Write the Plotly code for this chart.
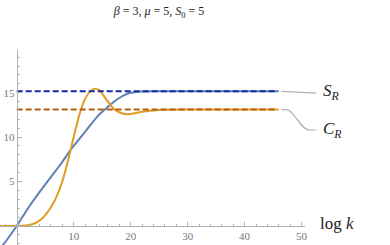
import plotly.graph_objects as go

# ---- data ----
k_blue = [-3, -2, 0, 2, 4, 6, 8, 9.4, 10, 11, 12, 13, 14, 15, 16, 17, 18, 19, 20, 21, 22, 24, 30, 46]
s_blue = [-2.6, -1.8, 0, 2.0, 3.8, 5.5, 7.2, 8.5, 9.0, 9.8, 10.6, 11.4, 12.2, 12.85, 13.4, 13.95, 14.4, 14.75, 14.98, 15.08, 15.12, 15.15, 15.15, 15.15]

k_orange = [-3, 0, 1, 2, 3, 4, 5, 6, 7, 8, 9, 10, 11, 12, 13, 13.7, 14.5, 15, 16, 17, 18, 19, 20, 21, 22, 24, 26, 30, 46]
c_orange = [0, 0, 0.02, 0.08, 0.25, 0.6, 1.2, 2.1, 3.3, 5.0, 7.3, 10.0, 12.5, 14.3, 15.2, 15.45, 15.3, 14.9, 14.0, 13.2, 12.8, 12.6, 12.6, 12.7, 12.85, 13.0, 13.08, 13.1, 13.1]

S_R = 15.15
C_R = 13.1
k_end = 45.8

x_ticks = [10, 20, 30, 40, 50]
y_ticks = [5, 10, 15]

X_RANGE = [-2.93, 50.6]
Y_RANGE = [-2.14, 19.8]

def yp(v):
    return (v - Y_RANGE[0]) / (Y_RANGE[1] - Y_RANGE[0])

def xp(v):
    return (v - X_RANGE[0]) / (X_RANGE[1] - X_RANGE[0])

fig = go.Figure()
fig.add_trace(go.Scatter(x=k_blue, y=s_blue, mode="lines", line=dict(color="#5E81B5", width=2, shape="spline", smoothing=0.5), showlegend=False))
fig.add_trace(go.Scatter(x=k_orange, y=c_orange, mode="lines", line=dict(color="#E19C24", width=2, shape="spline", smoothing=0.5), showlegend=False))
fig.add_trace(go.Scatter(x=[0, k_end], y=[S_R, S_R], mode="lines", line=dict(color="#1a2aa6", width=2, dash="6px,3px"), showlegend=False))
fig.add_trace(go.Scatter(x=[0, k_end], y=[C_R, C_R], mode="lines", line=dict(color="#b4600c", width=2, dash="6px,3px"), showlegend=False))

gray = "#b0b0b0"
# callout lines
x0, x1 = 46.5, 52.6
fig.add_shape(type="path", xref="paper", yref="paper",
              path=f"M {xp(x0)} {yp(S_R)} L {xp(x1)} {yp(S_R-0.2)}",
              line=dict(color=gray, width=1.2))
c_lab = 10.8
fig.add_shape(type="path", xref="paper", yref="paper",
              path=(f"M {xp(x0)} {yp(C_R)} L {xp(47.4)} {yp(C_R)} "
                    f"C {xp(48.6)} {yp(C_R)} {xp(49.8)} {yp(c_lab)} {xp(51.4)} {yp(c_lab)} "
                    f"L {xp(x1)} {yp(c_lab)}"),
              line=dict(color=gray, width=1.2))

serif = "Liberation Serif, Times New Roman, serif"
fig.add_annotation(x=xp(53.4), y=yp(S_R - 0.1), xref="paper", yref="paper", xanchor="left", yanchor="middle",
                   text="<i>S</i><sub><i>R</i></sub>", showarrow=False, font=dict(family=serif, size=17, color="#222"))
fig.add_annotation(x=xp(53.4), y=yp(c_lab), xref="paper", yref="paper", xanchor="left", yanchor="middle",
                   text="<i>C</i><sub><i>R</i></sub>", showarrow=False, font=dict(family=serif, size=17, color="#222"))
fig.add_annotation(x=xp(52.8), y=yp(0.3), xref="paper", yref="paper", xanchor="left", yanchor="middle",
                   text="log <i>k</i>", showarrow=False, font=dict(family=serif, size=17, color="#222"))

fig.update_layout(
    width=390, height=245,
    margin=dict(l=0, r=85, t=50, b=0, autoexpand=False),
    paper_bgcolor="white", plot_bgcolor="white",
    title=dict(text="<i>β</i> = 3, <i>μ</i> = 5, <i>S</i><sub>0</sub> = 5", x=159/390, xanchor="center",
               y=1 - 11/245, yanchor="middle", font=dict(family=serif, size=12, color="#222")),
    xaxis=dict(range=X_RANGE, anchor="free", position=yp(0), showline=True, linecolor=gray, linewidth=1,
               automargin=False,
               zeroline=False, showgrid=False, tickvals=x_ticks, ticks="inside", ticklen=4, tickcolor=gray,
               tickfont=dict(family=serif, size=11, color="#777"),
               minor=dict(dtick=2, ticks="inside", ticklen=2, tickcolor=gray, showgrid=False)),
    yaxis=dict(range=Y_RANGE, anchor="free", position=xp(0), showline=True, linecolor=gray, linewidth=1,
               automargin=False,
               zeroline=False, showgrid=False, tickvals=y_ticks, ticks="inside", ticklen=4, tickcolor=gray,
               tickfont=dict(family=serif, size=11, color="#777"),
               minor=dict(dtick=1, ticks="inside", ticklen=2, tickcolor=gray, showgrid=False)),
)

fig.write_html("out.html", config={"displayModeBar": False},
               post_script="document.body.style.margin='0';document.body.style.padding='0';")
